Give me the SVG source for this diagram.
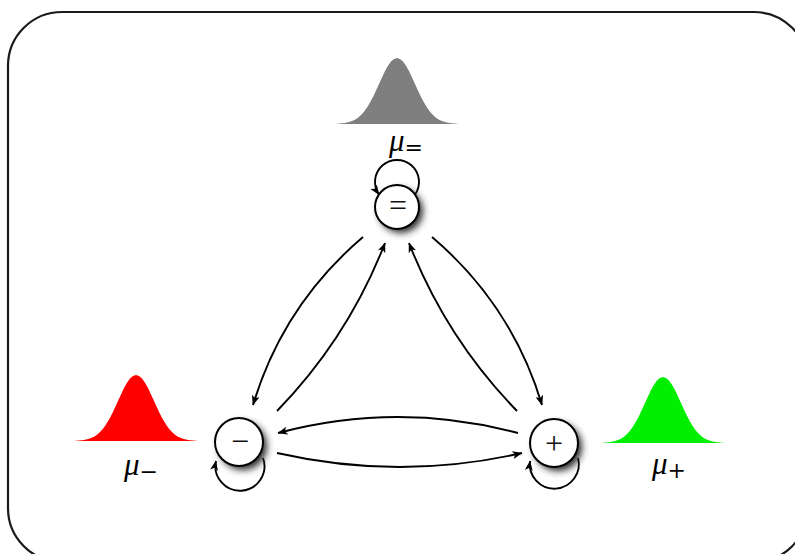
<svg xmlns="http://www.w3.org/2000/svg" width="795" height="554" viewBox="0 0 795 554">
<style>
.border{fill:none;stroke:#1a1a1a;stroke-width:2.2}
.edge{fill:none;stroke:#000;stroke-width:1.9;marker-end:url(#arr)}
.node{fill:#fff;stroke:#000;stroke-width:2}
.shadow{fill:#2a2a2a;filter:url(#blur)}
.sym{font-family:"Liberation Serif","DejaVu Serif",serif;font-size:32px;text-anchor:middle;fill:#111}
.mu{font-family:"Liberation Serif","DejaVu Serif",serif;font-style:italic;font-size:31px;fill:#000}
.sub{font-family:"DejaVu Serif","Liberation Serif",serif;font-style:normal;font-size:22px}
</style>
<defs>
<filter id="blur" x="-50%" y="-50%" width="200%" height="200%"><feGaussianBlur stdDeviation="3.5"/></filter>
<marker id="arr" viewBox="0 0 10 8" refX="9.5" refY="4" markerWidth="10" markerHeight="8" markerUnits="userSpaceOnUse" orient="auto">
<path d="M0,0 L10,4 L0,8 L2.5,4 Z" fill="#000"/>
</marker>
<path id="gauss" d="M-62,0 L-57,-0.4 L-54,-0.7 L-51,-1.2 L-48,-1.9 L-45,-2.9 L-42,-4.3 L-39,-6.3 L-36,-8.9 L-33,-12.3 L-30,-16.5 L-27,-21.4 L-24,-27.1 L-21,-33.4 L-18,-40 L-15,-46.6 L-12,-52.9 L-9,-58.2 L-6,-62.4 L-3,-65.1 L0,-66 L3,-65.1 L6,-62.4 L9,-58.2 L12,-52.9 L15,-46.6 L18,-40 L21,-33.4 L24,-27.1 L27,-21.4 L30,-16.5 L33,-12.3 L36,-8.9 L39,-6.3 L42,-4.3 L45,-2.9 L48,-1.9 L51,-1.2 L54,-0.7 L57,-0.4 L62,0 Z"/>
</defs>
<rect class="border" x="8" y="12" width="800" height="550" rx="54" ry="54"/>
<g id="dist-eq">
<use href="#gauss" transform="translate(397,124)" fill="#7f7f7f"/>
<text class="mu" x="389" y="151">μ<tspan class="sub" dy="4">=</tspan></text>
</g>
<g id="dist-minus">
<use href="#gauss" transform="translate(136,441)" fill="#ff0000"/>
<text class="mu" x="124" y="475">μ<tspan class="sub" dy="4">−</tspan></text>
</g>
<g id="dist-plus">
<use href="#gauss" transform="translate(663,443)" fill="#00ee00"/>
<text class="mu" x="652" y="474">μ<tspan class="sub" dy="4">+</tspan></text>
</g>
<g id="connectors">
<path class="edge" d="M363,237 Q283,305 253,405"/>
<path class="edge" d="M277,411 Q348,338 385,243"/>
<path class="edge" d="M432,237 Q512,305 542,405"/>
<path class="edge" d="M517,411 Q446,338 409,243"/>
<path class="edge" d="M518,433 Q398,401 278,433"/>
<path class="edge" d="M277,453 Q400,481 522,453"/>
<path class="edge" d="M415,194.6 A22 22 0 1 0 379,194.6"/>
<path class="edge" d="M263,458 A24.5 24.5 0 1 1 216,461"/>
<path class="edge" d="M578,458 A24.5 24.5 0 1 1 530,461"/>
</g>
<g id="node-eq">
<circle class="shadow" cx="401" cy="211" r="22"/>
<circle class="node" cx="397" cy="207" r="22"/>
<text class="sym" x="398" y="216">=</text>
</g>
<g id="node-minus">
<circle class="shadow" cx="243" cy="446" r="24"/>
<circle class="node" cx="239" cy="442" r="24"/>
<text class="sym" x="240" y="452">−</text>
</g>
<g id="node-plus">
<circle class="shadow" cx="558" cy="447" r="24"/>
<circle class="node" cx="554" cy="443" r="24"/>
<text class="sym" x="554" y="454">+</text>
</g>
</svg>
